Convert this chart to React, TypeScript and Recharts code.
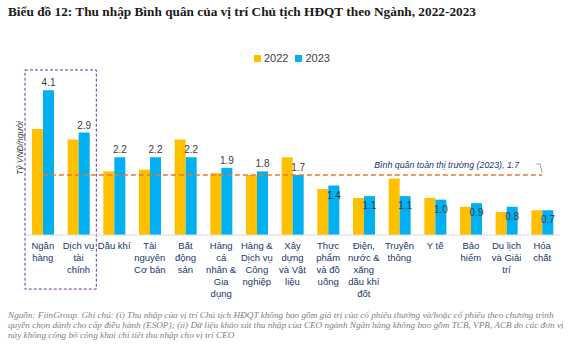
import { BarChart, Bar, XAxis, YAxis, LabelList, ReferenceLine, ReferenceArea } from "recharts"

// categories (full names) and how they wrap under the axis
const categories = [
  "Ngân hàng",
  "Dịch vụ tài chính",
  "Dầu khí",
  "Tài nguyên Cơ bản",
  "Bất động sản",
  "Hàng cá nhân & Gia dụng",
  "Hàng & Dịch vụ Công nghiệp",
  "Xây dựng và Vật liệu",
  "Thực phẩm và đồ uống",
  "Điện, nước & xăng dầu khí đốt",
  "Truyền thông",
  "Y tế",
  "Bảo hiểm",
  "Du lịch và Giải trí",
  "Hóa chất",
]

const tickLines = [
  ["Ngân", "hàng"],
  ["Dịch vụ", "tài", "chính"],
  ["Dầu khí"],
  ["Tài", "nguyên", "Cơ bản"],
  ["Bất", "động", "sản"],
  ["Hàng", "cá", "nhân &", "Gia", "dụng"],
  ["Hàng &", "Dịch vụ", "Công", "nghiệp"],
  ["Xây", "dựng", "và Vật", "liệu"],
  ["Thực", "phẩm", "và đồ", "uống"],
  ["Điện,", "nước &", "xăng", "dầu khí", "đốt"],
  ["Truyền", "thông"],
  ["Y tế"],
  ["Bảo", "hiểm"],
  ["Du lịch", "và Giải", "trí"],
  ["Hóa", "chất"],
]

const values2022 = [3.0, 2.7, 1.8, 1.85, 2.7, 1.75, 1.7, 2.2, 1.3, 1.05, 1.6, 1.05, 0.8, 0.65, 0.7]
const values2023 = [4.1, 2.9, 2.2, 2.2, 2.2, 1.9, 1.8, 1.7, 1.4, 1.1, 1.1, 1.0, 0.9, 0.8, 0.7]

const marketAvg = 1.7

const data = categories.map((name, i) => ({
  name,
  y2022: values2022[i],
  y2023: values2023[i],
}))

const C2022 = "#FFC000"
const C2023 = "#00B0F0"

function CategoryTick(props: any) {
  const { x, y, payload } = props
  const idx = categories.indexOf(payload.value)
  const lines = tickLines[idx] || [payload.value]
  return (
    <text x={x} y={y} textAnchor="middle" fontSize={9.5} fill="#22356B" fontFamily="Liberation Sans, Arial, sans-serif">
      {lines.map((l, i) => (
        <tspan key={i} x={x} dy={i === 0 ? 6 : 12}>
          {l}
        </tspan>
      ))}
    </text>
  )
}

function ValueLabel(props: any) {
  const { x, y, width, value, index } = props
  const cx = x + width / 2
  // bigger bars carry the number above, the short ones on the bar top
  const ly = index < 8 ? y - 4 : y + 13
  return (
    <text x={cx} y={ly} textAnchor="middle" fontSize={10} fill="#3B3B3B" fontFamily="Liberation Sans, Arial, sans-serif">
      {Number(value).toFixed(1)}
    </text>
  )
}

function AvgLabel(props: any) {
  const { viewBox } = props
  const end = viewBox.x + viewBox.width
  const y = viewBox.y
  return (
    <g>
      <text
        x={end - 23}
        y={y - 7}
        textAnchor="end"
        fontSize={8.8}
        fontStyle="italic"
        fill="#22356B"
        fontFamily="Liberation Sans, Arial, sans-serif"
      >
        {`Bình quân toàn thị trường (2023),  ${marketAvg.toFixed(1)}`}
      </text>
      <path d={`M ${end - 6} ${y - 11} L ${end - 2} ${y - 11} L ${end} ${y - 2}`} stroke="#8a8a8a" fill="none" strokeWidth={0.8} />
    </g>
  )
}

export default function App() {
  return (
    <div style={{ position: "absolute", left: 0, top: 0, width: 574, height: 353, background: "#fff", overflow: "hidden" }}>
      <div
        style={{
          position: "absolute",
          left: 8,
          top: 4,
          fontFamily: "Liberation Serif, serif",
          fontWeight: "bold",
          fontSize: 13.3,
          color: "#1a1a1a",
          whiteSpace: "nowrap",
        }}
      >
        Biểu đồ 12: Thu nhập Bình quân của vị trí Chủ tịch HĐQT theo Ngành, 2022-2023
      </div>

      {/* legend */}
      <div
        style={{
          position: "absolute",
          left: 254,
          top: 52,
          display: "flex",
          alignItems: "center",
          fontFamily: "Liberation Sans, Arial, sans-serif",
          fontSize: 11,
          color: "#404040",
        }}
      >
        <span style={{ width: 7, height: 7, background: C2022, display: "inline-block", marginRight: 3 }} />
        <span style={{ marginRight: 7 }}>2022</span>
        <span style={{ width: 7, height: 7, background: C2023, display: "inline-block", marginRight: 3 }} />
        <span>2023</span>
      </div>

      <div
        style={{
          position: "absolute",
          left: 20,
          top: 148,
          transform: "translate(-50%, -50%) rotate(-90deg)",
          fontFamily: "Liberation Sans, Arial, sans-serif",
          fontStyle: "italic",
          fontSize: 8.5,
          color: "#404040",
          whiteSpace: "nowrap",
        }}
      >
        Tỷ VNĐ/người
      </div>

      <div style={{ position: "absolute", left: 0, top: 0 }}>
        <BarChart width={574} height={353} data={data} margin={{ top: 76, right: 14, bottom: 0, left: 25 }} barGap={0}>
          <XAxis
            dataKey="name"
            height={118}
            interval={0}
            tickLine={false}
            axisLine={{ stroke: "#D9D9D9" }}
            tick={<CategoryTick />}
          />
          <YAxis hide domain={[0, 4.5]} />
          <ReferenceArea
            x1={categories[0]}
            x2={categories[1]}
            y1={-1.53}
            y2={4.67}
            ifOverflow="visible"
            fill="none"
            stroke="#7030A0"
            strokeDasharray="3 2"
            strokeWidth={1}
          />
          <Bar dataKey="y2022" name="2022" fill={C2022} barSize={11} isAnimationActive={false} />
          <Bar dataKey="y2023" name="2023" fill={C2023} barSize={11} isAnimationActive={false}>
            <LabelList dataKey="y2023" content={<ValueLabel />} />
          </Bar>
          <ReferenceLine
            segment={[
              { x: categories[0], y: marketAvg },
              { x: categories[categories.length - 1], y: marketAvg },
            ]}
            stroke="#E07B39"
            strokeWidth={1.5}
            strokeDasharray="5 3"
            ifOverflow="visible"
            label={<AvgLabel />}
          />
        </BarChart>
      </div>

      <div
        style={{
          position: "absolute",
          left: 8,
          top: 310,
          fontFamily: "Liberation Serif, serif",
          fontStyle: "italic",
          fontSize: 9.2,
          lineHeight: "10px",
          color: "#808080",
          whiteSpace: "nowrap",
        }}
      >
        <div>
          Nguồn: FiinGroup. Ghi chú: (i) Thu nhập của vị trí Chủ tịch HĐQT không bao gồm giá trị của cổ phiếu thưởng và/hoặc cổ phiếu theo chương trình
        </div>
        <div>
          quyền chọn dành cho cấp điều hành (ESOP); (ii) Dữ liệu khảo sát thu nhập của CEO ngành Ngân hàng không bao gồm TCB, VPB, ACB do các đơn vị
        </div>
        <div>này không công bố công khai chi tiết thu nhập cho vị trí CEO</div>
      </div>
    </div>
  )
}
